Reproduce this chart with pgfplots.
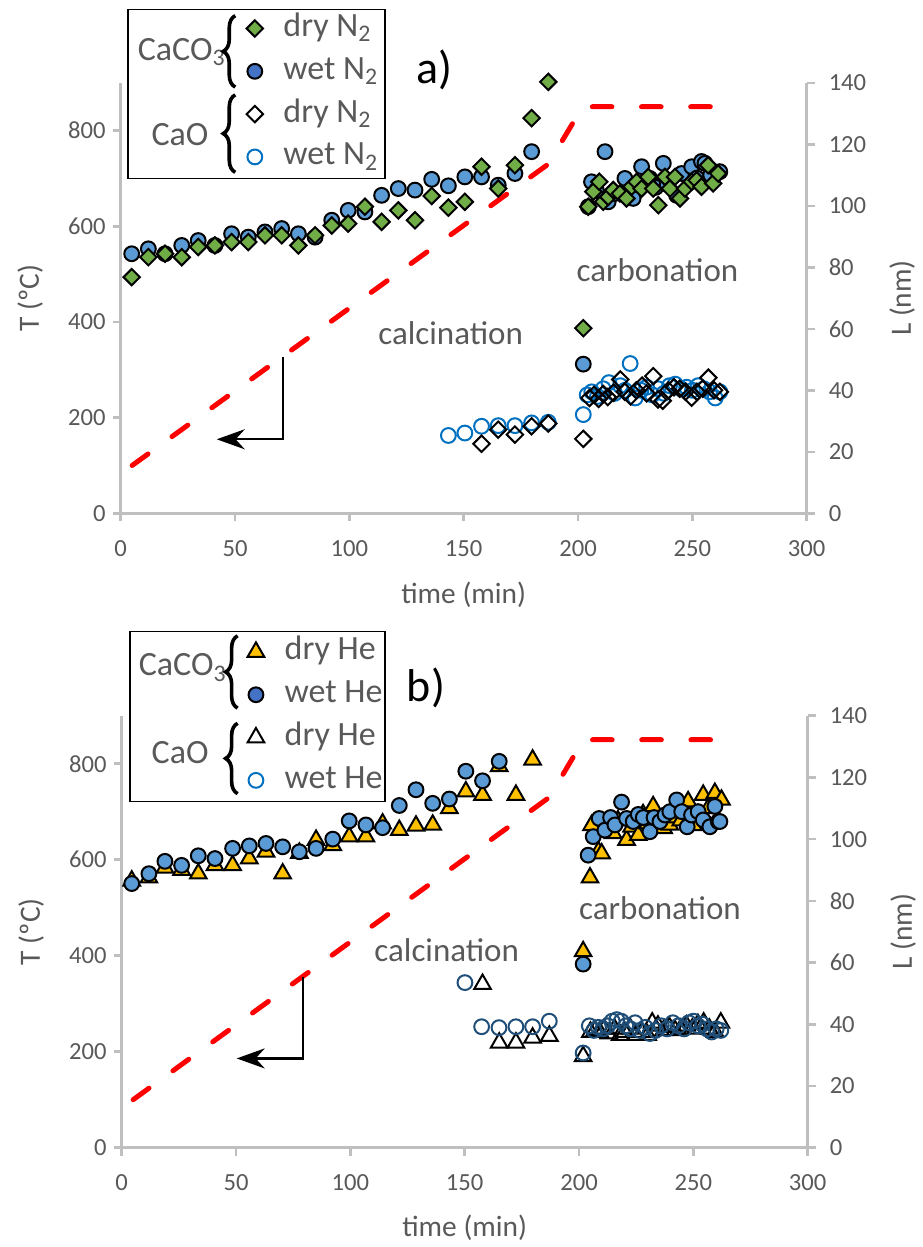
\documentclass[border=0pt]{standalone}
\usepackage{fontspec}
\setmainfont{Carlito}
\usepackage{pgfplots}
\pgfplotsset{compat=1.18}
\usetikzlibrary{arrows.meta,decorations.pathreplacing}

\definecolor{exgreen}{HTML}{70AD47}
\definecolor{exblue}{HTML}{5B9BD5}
\definecolor{legblue}{HTML}{4472C4}
\definecolor{exdblue}{HTML}{0070C0}
\definecolor{exnavy}{HTML}{1F4E79}
\definecolor{exgold}{HTML}{FFC000}
\definecolor{txtgray}{HTML}{595959}
\definecolor{axgray}{HTML}{BFBFBF}

\tikzset{
  grp/.style={font=\fontsize{17}{20}\selectfont, text=txtgray},
  brc/.style={decorate, decoration={brace, amplitude=6pt}, line width=1.8pt, black},
  ann/.style={font=\fontsize{16.5}{19}\selectfont, text=txtgray},
  arr/.style={black, line width=1.2pt, -{Stealth[length=14pt,width=10pt]}},
}

\pgfplotsset{
  base/.style={
    scale only axis, width=343pt,
    xmin=0, xmax=300,
    axis line style={axgray, line width=1.25pt},
    tick style={axgray, line width=1.25pt},
    major tick length=4pt,
    tick align=outside,
    ticklabel style={font=\fontsize{12.3}{14}\selectfont, text=txtgray},
    /pgf/number format/assume math mode=true,
    clip=false,
  },
  leftax/.style={base,
    axis y line*=left, axis x line*=bottom,
    ymin=0, ymax=900, ytick={0,200,...,800}, xtick={0,50,...,300},
    xticklabel style={yshift=-6pt},
    every axis x label/.style={at={(axis description cs:0.5,#1)}, anchor=center,
      font=\fontsize{14.7}{17}\selectfont, text=txtgray},
    every axis y label/.style={at={(axis description cs:-0.132,0.5)}, anchor=center, rotate=90,
      font=\fontsize{14.7}{17}\selectfont, text=txtgray},
    xlabel={time (min)}, ylabel={T (ºC)},
  },
  rightax/.style={base,
    axis y line*=right, axis x line=none, xtick=\empty,
    ymin=0, ymax=140, ytick={0,20,...,140},
    yticklabel style={xshift=3.5pt},
    every axis y label/.style={at={(axis description cs:1.139,0.5)}, anchor=center, rotate=90,
      font=\fontsize{14.7}{17}\selectfont, text=txtgray},
    ylabel={L (nm)},
    legend image code/.code={\draw[##1] plot coordinates {(0pt,0pt)};},
    legend style={draw=none, fill=none, inner sep=0pt, anchor=north west,
      font=\fontsize{17}{20}\selectfont, text=txtgray, cells={anchor=west},
      nodes={text height=12pt, text depth=4pt, inner sep=2.7pt},
      /tikz/column sep=7.5pt, row sep=0pt},
  },
  tline/.style={red, line width=2.5pt, dash pattern=on 9.8pt off 14.8pt, line cap=round},
  mk/.style={only marks, mark size=3.7pt, line width=1pt},
  dia/.style={only marks, mark=square*, mark size=2.9pt, line width=1pt, mark options={rotate=45}},
  tri/.style={only marks, mark=triangle*, mark size=4.8pt, line width=1pt},
}

\begin{document}
\begin{tikzpicture}
\useasboundingbox (-60.85pt,-49.65pt) rectangle (400.15pt,573.85pt);

% ---------------- panel a ----------------
\begin{axis}[leftax={-0.19}, height=215.25pt, at={(-0.5pt,317.2pt)}, anchor=south west]
\addplot[tline] coordinates {(5,100) (187,730) (202,850) (260,850)};
\draw[arr] (axis cs:71.1,326) -- (axis cs:71.1,154.7) -- (axis cs:42,154.7);
\end{axis}

\begin{axis}[rightax, height=215.25pt, at={(-0.5pt,317.2pt)}, anchor=south west,
  legend style={at={(rel axis cs:0.183,1.1767)}}]
\addlegendimage{dia, fill=exgreen, draw=black}
\addlegendentry{dry N\textsubscript{2}}
\addlegendimage{mk, mark=*, fill=legblue, draw=black}
\addlegendentry{wet N\textsubscript{2}}
\addlegendimage{dia, mark=square, draw=black}
\addlegendentry{dry N\textsubscript{2}}
\addlegendimage{mk, mark=o, draw=exdblue}
\addlegendentry{wet N\textsubscript{2}}

% CaO wet N2
\addplot[mk, mark=o, draw=exdblue, forget plot] coordinates {
(143.3,25.3)(150.5,26.1)(157.8,28.3)(165.1,28.5)(172.4,28.5)(179.7,29.4)(187.0,29.6)(202.3,32.1)
(204,38.5)(206,39.5)(208.5,38.0)(211,40.5)(213.5,42.5)(216,39.0)(218.5,41.5)(220.5,40.0)
(222.8,48.7)(225,37.5)(227.5,40.0)(230,41.0)(232.5,38.5)(235,40.5)(237.5,39.0)(240,41.5)
(242.5,42.0)(245,40.5)(247.5,41.0)(250,40.0)(252.5,41.5)(255,40.5)(257.5,39.5)(260,37.5)(262,39.5)
};
% CaO dry N2
\addplot[dia, mark=square, draw=black, forget plot] coordinates {
(157.8,22.6)(165.1,27.2)(172.4,25.6)(179.7,28.3)(187.0,29.2)(202.3,24.2)
(205,37.5)(207,38.5)(209,37.2)(211,38.8)(213,37.8)(215.5,39.2)(218.5,43.5)(220.5,39.5)
(223,38.0)(225.5,40.0)(228,41.5)(230,39.0)(232.9,44.6)(235,37.0)(237,36.6)(239.5,40.0)
(242,41.0)(244.5,40.5)(247,39.5)(249.7,37.6)(252,39.5)(254.5,40.5)(257,44.1)(259.5,40.0)(262,39.5)
};
% CaCO3 wet N2
\addplot[mk, mark=*, fill=exblue, draw=black, forget plot] coordinates {
(4.8,84.4)(12.1,86.0)(19.4,84.4)(26.7,87.1)(33.9,88.7)(41.2,87.1)(48.5,90.9)(55.8,89.8)
(63.1,91.5)(70.4,92.6)(77.7,90.9)(85.0,89.8)(92.3,95.3)(99.5,98.5)(106.8,98.0)(114.1,103.4)
(121.4,105.6)(128.7,105.1)(136.0,108.6)(143.3,106.5)(150.5,109.4)(157.8,109.4)(165.1,106.7)
(172.4,110.5)(179.7,117.6)(202.3,48.5)
(204.5,99.7)(205.9,107.8)(208,105)(211.8,117.6)(213.2,101.3)(216,104)(220.5,108.9)(222.7,105.0)
(224.1,102.4)(227.8,112.7)(231.4,108.9)(234,106)(237.3,113.8)(239.0,107.0)(243.1,103.4)
(245.3,110.5)(249.7,112.7)(252,109)(254.0,114.4)(255.5,113.8)(258,110)(262.0,111.1)
};
% CaCO3 dry N2
\addplot[dia, fill=exgreen, draw=black, forget plot] coordinates {
(4.8,76.8)(12.1,83.3)(19.4,84.4)(26.7,83.3)(33.9,86.6)(41.2,87.1)(48.5,88.2)(55.8,88.2)
(63.1,90.4)(70.4,90.4)(77.7,87.1)(85.0,90.4)(92.3,93.6)(99.5,94.2)(106.8,99.7)(114.1,94.8)
(121.4,98.5)(128.7,95.3)(136.0,103.2)(143.3,99.4)(150.5,101.3)(157.8,112.7)(165.1,105.6)
(172.4,113.2)(179.7,128.5)(187.0,140.3)(202.3,60.2)
(204.5,99.7)(206.7,104.6)(209.3,107.8)(211.0,101.3)(213.2,102.9)(215.4,105.1)(218.3,104.0)
(221.2,102.4)(223.4,106.2)(225.6,107.8)(227.8,105.6)(230.7,109.4)(232.9,105.6)(235.1,100.2)
(238.0,109.4)(240.2,105.6)(242.4,109.4)(244.6,102.4)(246.8,105.6)(249.7,107.8)(251.9,108.3)
(254.0,106.2)(256.9,113.2)(259.1,107.3)(261.3,110.5)
};

\draw[black, line width=0.75pt] (rel axis cs:0.0108,0.7782) rectangle (rel axis cs:0.3853,1.1707);
\node[grp] at (rel axis cs:0.0889,1.0716) {CaCO\textsubscript{3}};
\node[grp] at (rel axis cs:0.0864,0.879) {CaO};
\draw[brc] (rel axis cs:0.167,0.99) -- (rel axis cs:0.167,1.156);
\draw[brc] (rel axis cs:0.167,0.792) -- (rel axis cs:0.167,0.972);
\node[font=\fontsize{23}{27}\selectfont] at (rel axis cs:0.458,1.030) {a)};
\node[ann] at (rel axis cs:0.481,0.419) {calcination};
\node[ann] at (rel axis cs:0.7825,0.5651) {carbonation};
\end{axis}

% ---------------- panel b ----------------
\begin{axis}[leftax={-0.185}, height=216pt, at={(0pt,0pt)}, anchor=south west]
\addplot[tline] coordinates {(5,100) (187,730) (202,850) (260,850)};
\draw[arr] (axis cs:79.4,356) -- (axis cs:79.4,186) -- (axis cs:50.3,186);
\end{axis}

\begin{axis}[rightax, height=216pt, at={(0pt,0pt)}, anchor=south west,
  legend style={at={(rel axis cs:0.183,1.198)}}]
\addlegendimage{tri, fill=exgold, draw=black}
\addlegendentry{dry He}
\addlegendimage{mk, mark=*, fill=legblue, draw=black}
\addlegendentry{wet He}
\addlegendimage{tri, mark=triangle, draw=black}
\addlegendentry{dry He}
\addlegendimage{mk, mark=o, draw=exdblue}
\addlegendentry{wet He}

% CaO dry He
\addplot[tri, mark=triangle, draw=black, forget plot] coordinates {
(157.8,53.0)(165.1,34.0)(172.4,34.0)(179.7,35.6)(187.0,36.2)(201.8,29.6)
(205,37.5)(207,38.0)(209,37.5)(211,38.5)(213,37.0)(215.5,38.5)(218,36.5)(220,37.5)
(222.5,38.5)(225,36.5)(227.5,37.5)(230,36.5)(232,40.5)(234.5,39.5)(237,38.0)(239.5,39.0)
(242,38.0)(244.5,38.5)(247,39.5)(249.5,38.5)(252,40.0)(254.5,40.5)(257,38.5)(259.5,37.5)(262,40.5)
};
% CaO wet He
\addplot[mk, mark=o, draw=exnavy, forget plot] coordinates {
(150.1,53.5)(157.4,39.2)(165.0,38.9)(172.4,39.2)(179.7,39.2)(187.0,41.0)(201.8,30.7)
(204.5,39.5)(206.5,38.0)(208.5,39.0)(210.5,38.5)(212.5,39.5)(214.5,41.0)(216.5,41.5)(218.5,41.0)
(220.5,39.5)(222.5,38.5)(224.5,40.5)(226.5,38.0)(229,39.0)(231,37.0)(233.5,38.0)(236,39.5)
(238.5,38.5)(241,40.5)(243.5,39.5)(246,38.5)(248,40.5)(250,41.0)(252,39.5)(254,40.0)
(256,38.5)(258,37.5)(260,38.5)(262,38.0)
};
% CaCO3 dry He
\addplot[tri, fill=exgold, draw=black, forget plot] coordinates {
(4.4,86.5)(11.9,87.5)(18.9,90.7)(26.2,90.0)(33.5,88.8)(40.8,91.5)(48.5,91.5)(55.8,93.7)
(63.1,95.9)(70.4,88.8)(77.7,95.5)(85.0,99.7)(92.3,98.0)(99.5,100.8)(106.8,100.8)(114.1,105.0)
(121.4,102.9)(128.7,104.3)(136.0,104.6)(143.3,110.0)(150.5,115.4)(157.8,114.3)(165.1,123.6)
(172.4,114.3)(179.7,125.7)(201.8,63.6)
(204.8,87.5)(205.5,104.5)(208.5,96)(209.9,95.3)(212,103)(214.9,101.9)(217,106)(220.8,99.7)
(223,104)(225.9,101.3)(228,108)(230,105)(232.4,110.6)(235,106)(237,103.5)(239.7,104.6)
(242,107)(244.5,106)(247.7,112.2)(250,104.5)(252,108)(254.3,114.3)(256.5,110)(259.4,114.9)(262.3,112.7)
};
% CaCO3 wet He
\addplot[mk, mark=*, fill=exblue, draw=black, forget plot] coordinates {
(4.4,85.6)(11.9,88.8)(18.9,92.8)(26.2,91.5)(33.5,94.6)(40.8,93.7)(48.5,97.0)(55.8,97.8)
(63.1,98.6)(70.4,97.5)(77.7,95.9)(85.0,97.0)(92.3,100.0)(99.5,105.9)(106.8,104.6)(114.1,103.7)
(121.4,110.9)(128.7,116.0)(136.0,111.6)(143.3,113.0)(150.5,122.0)(157.8,118.9)(165.1,125.2)
(201.8,59.5)
(204,94.8)(206.2,100.8)(208.8,106.7)(211.3,102.9)(213.8,107.0)(215.7,104.6)(218.6,112.0)
(220.8,106.7)(223.7,105.7)(225.9,108.0)(228.1,107.0)(231,102.4)(232.8,107.0)(235.4,105.7)
(237.6,107.8)(239.7,108.9)(242.7,112.7)(244.9,108.9)(247.3,104.0)(249.2,107.8)(252.1,108.9)
(254.3,106.2)(257.2,104.0)(259.4,110.6)(260.9,105.7)(261.6,105.7)
};

\draw[black, line width=0.75pt] (rel axis cs:0.0121,0.8016) rectangle (rel axis cs:0.3838,1.1946);
\node[grp] at (rel axis cs:0.0889,1.1116) {CaCO\textsubscript{3}};
\node[grp] at (rel axis cs:0.0852,0.9144) {CaO};
\draw[brc] (rel axis cs:0.169,1.0175) -- (rel axis cs:0.169,1.185);
\draw[brc] (rel axis cs:0.169,0.8195) -- (rel axis cs:0.169,0.9825);
\node[font=\fontsize{23}{27}\selectfont] at (rel axis cs:0.4436,1.064) {b)};
\node[ann] at (rel axis cs:0.4738,0.4576) {calcination};
\node[ann] at (rel axis cs:0.7847,0.5542) {carbonation};
\end{axis}
\end{tikzpicture}
\end{document}
